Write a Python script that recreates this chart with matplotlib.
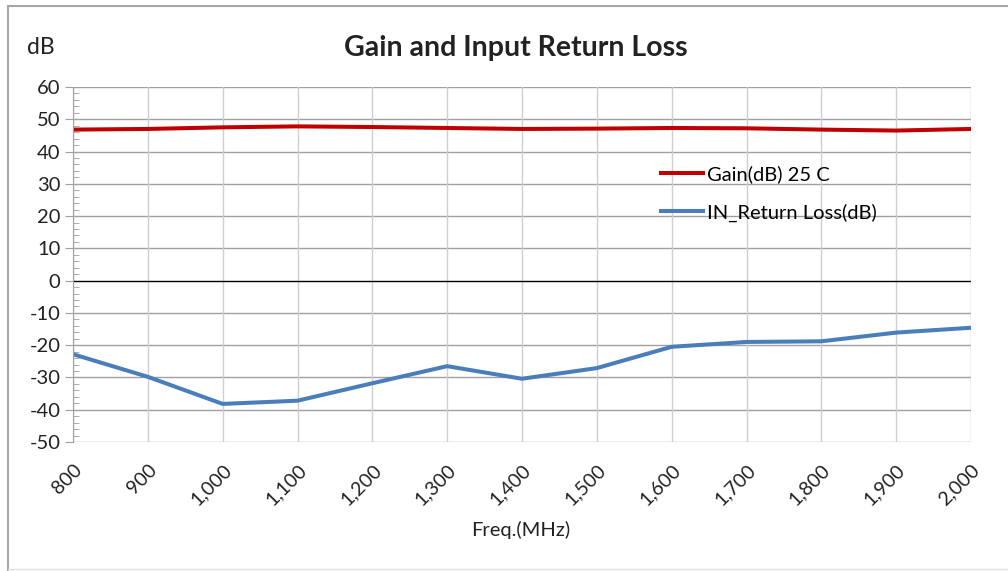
import matplotlib
matplotlib.use("Agg")
import matplotlib.pyplot as plt
from matplotlib.lines import Line2D
from matplotlib.ticker import MultipleLocator, FuncFormatter

plt.rcParams['font.family'] = ['Lato', 'DejaVu Sans']
plt.rcParams['axes.unicode_minus'] = False

# data
freq = [800, 900, 1000, 1100, 1200, 1300, 1400, 1500, 1600, 1700, 1800, 1900, 2000]
gain = [46.8, 47.0, 47.5, 47.8, 47.6, 47.3, 47.0, 47.1, 47.3, 47.2, 46.8, 46.5, 47.0]
ret_loss = [-22.8, -29.8, -38.2, -37.2, -31.8, -26.5, -30.4, -27.1, -20.5, -19.0, -18.8, -16.1, -14.6]

fig = plt.figure(figsize=(10.08, 5.71), dpi=100)
ax = fig.add_axes([73/1008, 1-442/571, 898/1008, 355/571])

# outer chart border
fig.add_artist(Line2D([7.5/1008, 7.5/1008], [0, 1-6/571], color='#a6a6a6', lw=1.5))
fig.add_artist(Line2D([7.5/1008, 1], [1-6/571, 1-6/571], color='#a6a6a6', lw=1.5))
fig.add_artist(Line2D([7.5/1008, 1], [1-569/571, 1-569/571], color='#e0e0e0', lw=1))

ax.plot(freq, gain, color='#C00000', lw=2.9, label='Gain(dB) 25 C', solid_capstyle='butt')
ax.plot(freq, ret_loss, color='#4A7EBB', lw=2.9, label='IN_Return Loss(dB)', solid_capstyle='butt')

ax.set_xlim(800, 2000)
ax.set_ylim(-50, 60)
ax.set_xticks(freq)
ax.xaxis.set_major_formatter(FuncFormatter(lambda v, p: f"{int(v):,}"))
ax.yaxis.set_major_locator(MultipleLocator(10))
ax.yaxis.set_minor_locator(MultipleLocator(2))

for y in range(-50, 61, 10):
    if y == 0:
        ax.axhline(0, color='black', lw=1, zorder=1)
    else:
        ax.axhline(y, color='#a0a0a0', lw=1, zorder=0)
for x in freq:
    ax.axvline(x, color='#cfcfcf', lw=1, zorder=0)

for s in ['top', 'right', 'bottom']:
    ax.spines[s].set_visible(False)
ax.spines['left'].set_color('#a0a0a0')
ax.tick_params(axis='y', which='major', length=6, color='#a0a0a0', labelsize=14.5, pad=3,
               labelcolor='#222222')
ax.tick_params(axis='y', which='minor', direction='in', length=4, color='#a0a0a0')
ax.tick_params(axis='x', length=0, labelsize=14, pad=14, labelcolor='#222222')
for lbl in ax.get_xticklabels():
    lbl.set_rotation(45)
    lbl.set_ha('right')
    lbl.set_va('top')
    lbl.set_rotation_mode('anchor')

fig.text(516/1008, 1-48/571, 'Gain and Input Return Loss', ha='center', va='center',
         fontsize=20.5, fontweight='bold', color='#222222')
fig.text(41/1008, 1-47/571, 'dB', ha='center', va='center', fontsize=16.5, color='#222222')
fig.text(521/1008, 1-530/571, 'Freq.(MHz)', ha='center', va='center', fontsize=14.5, color='#222222')

ax.legend(frameon=False, loc='center left', bbox_to_anchor=(0.632, 0.70),
          handlelength=2.3, handletextpad=0.1, labelspacing=1.0, fontsize=14.5)

fig.savefig('out.png', dpi=100)
